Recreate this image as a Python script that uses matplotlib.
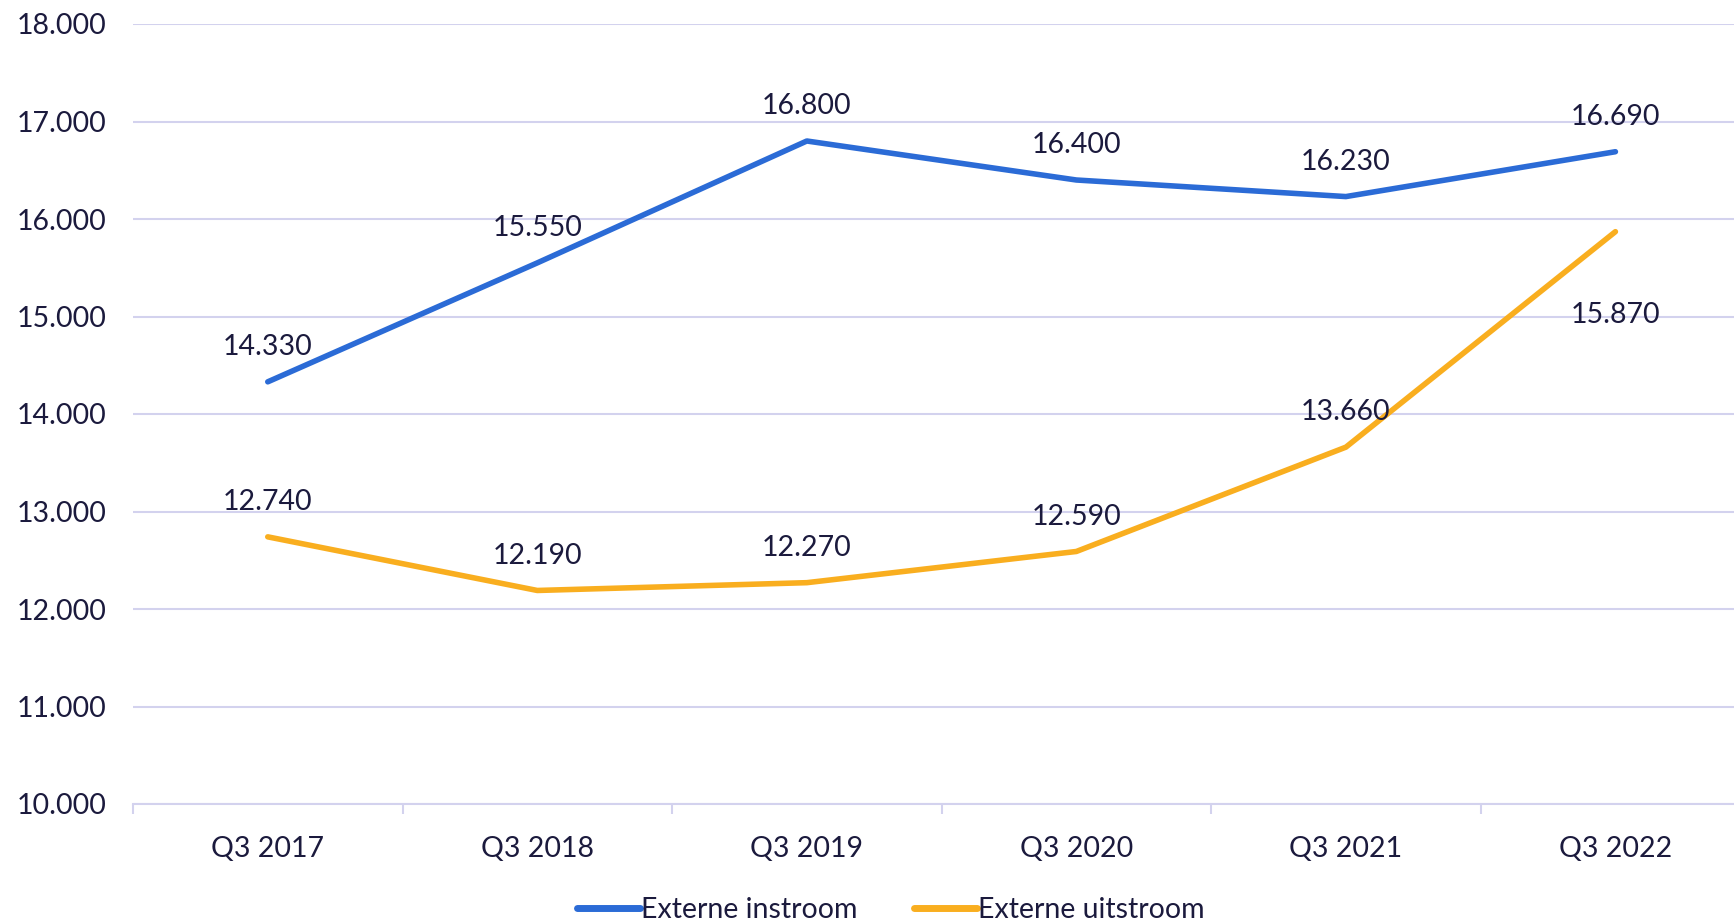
import numpy as np
import matplotlib.pyplot as plt
from matplotlib.ticker import FuncFormatter

# data
quarters = ['Q3 2017', 'Q3 2018', 'Q3 2019', 'Q3 2020', 'Q3 2021', 'Q3 2022']
instroom = [14330, 15550, 16800, 16400, 16230, 16690]
uitstroom = [12740, 12190, 12270, 12590, 13660, 15870]

blue = '#2b6bd6'
orange = '#f9ae1f'
text_col = '#1b1a3d'
grid_col = '#d3d2ee'
fs = 20.5

plt.rcParams['font.family'] = ['Lato', 'DejaVu Sans']

fig = plt.figure(figsize=(17.34, 9.24), dpi=100)
ax = fig.add_axes([133 / 1734, 1 - 804 / 924, 1 - 133 / 1734, (804 - 24) / 924])

x = np.arange(len(quarters))
ax.plot(x, instroom, color=blue, lw=4, solid_capstyle='round', label='Externe instroom', zorder=3)
ax.plot(x, uitstroom, color=orange, lw=4, solid_capstyle='round', label='Externe uitstroom', zorder=3)

def fmt(v):
    return f'{v:,.0f}'.replace(',', '.')

for i, v in enumerate(instroom):
    ax.annotate(fmt(v), (i, v), xytext=(0, 25), textcoords='offset points',
                ha='center', va='center', fontsize=fs, color=text_col)
for i, v in enumerate(uitstroom):
    off = -60 if i == len(uitstroom) - 1 else 25
    ax.annotate(fmt(v), (i, v), xytext=(0, off), textcoords='offset points',
                ha='center', va='center', fontsize=fs, color=text_col)

ax.set_ylim(10000, 18000)
ax.set_yticks(np.arange(10000, 18001, 1000))
ax.yaxis.set_major_formatter(FuncFormatter(lambda v, p: fmt(v)))
ax.set_xlim(-0.5, 5.44)
ax.set_xticks(x)
ax.set_xticklabels(quarters)
ax.set_xticks(np.arange(-0.5, 5.5, 1), minor=True)

ax.grid(axis='y', color=grid_col, lw=1.5)
ax.set_axisbelow(True)
for s in ['top', 'right', 'left']:
    ax.spines[s].set_visible(False)
ax.spines['bottom'].set_color(grid_col)
ax.spines['bottom'].set_linewidth(1.5)

ax.tick_params(axis='y', length=0, pad=19, labelsize=fs, labelcolor=text_col)
ax.tick_params(axis='x', which='major', length=0, pad=23, labelsize=fs, labelcolor=text_col)
ax.tick_params(axis='x', which='minor', length=7, width=1.5, color=grid_col)

leg = fig.legend(loc='center', bbox_to_anchor=(891 / 1734, 1 - 910 / 924), ncol=2,
                 frameon=False, fontsize=fs, handlelength=2.2, handletextpad=0.05,
                 columnspacing=2.0, labelcolor=text_col)
for h in leg.get_lines():
    h.set_linewidth(5)

fig.savefig('out.png', dpi=100)
